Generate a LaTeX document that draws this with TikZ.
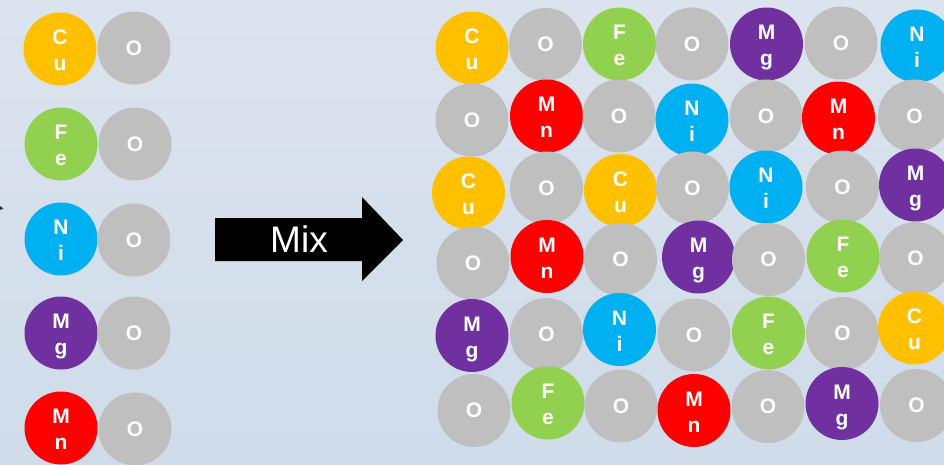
\documentclass[tikz,border=0pt]{standalone}
\usepackage{fontspec}
\setmainfont{Liberation Sans}
\definecolor{bgtop}{RGB}{219,227,238}
\definecolor{bgbot}{RGB}{208,220,234}
\definecolor{cucol}{RGB}{255,192,0}
\definecolor{fecol}{RGB}{146,208,80}
\definecolor{nicol}{RGB}{0,176,240}
\definecolor{mgcol}{RGB}{112,48,160}
\definecolor{mncol}{RGB}{255,0,0}
\definecolor{ocol}{RGB}{191,191,191}
\tikzset{
  ball/.style={circle, draw=none, minimum size=73pt, inner sep=0pt},
  lbl/.style={text=white, font=\bfseries\fontsize{21}{24}\selectfont, inner sep=0pt},
  oball/.style={ball, fill=ocol, text=white, font=\bfseries\fontsize{21}{24}\selectfont},
  mixtext/.style={text=white, font=\fontsize{37}{40}\selectfont, inner sep=0pt}
}
\newcommand\elemball[6]{%
  \node[ball, fill=#4] (#1) at (#2,#3) {};
  \node[lbl, anchor=base] (#1a) at ([yshift=4.5pt]#1.center) {#5};
  \node[lbl, anchor=base] (#1b) at ([yshift=-21.5pt]#1.center) {#6};}
\newcommand\oxball[3]{\node[oball] (#1) at (#2,#3) {O};}
\begin{document}
\begin{tikzpicture}[x=1pt,y=-1pt]
\useasboundingbox (0,0) rectangle (944,464);
\clip (0,0) rectangle (944,464);
\fill[top color=bgtop, bottom color=bgbot] (0,0) rectangle (944,464);
% tiny fragment at the left edge
\fill[black!80] (0,206) -- (3.5,208.5) -- (0,210) -- cycle;
% left column
\elemball{lcu}{60}{49}{cucol}{C}{u}
\oxball{lo1}{134}{48}
\elemball{lfe}{61}{144}{fecol}{F}{e}
\oxball{lo2}{135}{144}
\elemball{lni}{61}{239}{nicol}{N}{i}
\oxball{lo3}{134}{240}
\elemball{lmg}{61}{333}{mgcol}{M}{g}
\oxball{lo4}{134}{333}
\elemball{lmn}{61}{428}{mncol}{M}{n}
\oxball{lo5}{135}{429}
% arrow
\fill[black] (215,218) -- (362,218) -- (362,197) -- (403,240) -- (362,281) -- (362,261) -- (215,261) -- cycle;
\node[mixtext] (mix) at (299,239) {Mix};
% right grid, row 1
\elemball{a1}{472}{48}{cucol}{C}{u}
\oxball{a2}{545.5}{44.5}
\elemball{a3}{619.5}{44}{fecol}{F}{e}
\oxball{a4}{692}{44}
\elemball{a5}{766.5}{44}{mgcol}{M}{g}
\oxball{a6}{841}{43}
\elemball{a7}{917}{46}{nicol}{N}{i}
% row 2
\oxball{b1}{472}{120}
\elemball{b2}{546.5}{116}{mncol}{M}{n}
\oxball{b3}{619}{116}
\elemball{b4}{692}{120}{nicol}{N}{i}
\oxball{b5}{766}{116}
\elemball{b6}{838.5}{118}{mncol}{M}{n}
\oxball{b7}{914.5}{116}
% row 3
\elemball{c1}{468.5}{193}{cucol}{C}{u}
\oxball{c2}{546.5}{188}
\elemball{c3}{620.5}{190.5}{cucol}{C}{u}
\oxball{c4}{692.5}{188}
\elemball{c5}{766}{187}{nicol}{N}{i}
\oxball{c6}{842.5}{187}
\elemball{c7}{915.5}{185}{mgcol}{M}{g}
% row 4
\oxball{d1}{473}{263}
\elemball{d2}{547}{256.5}{mncol}{M}{n}
\oxball{d3}{620.5}{259.5}
\elemball{d4}{698.5}{257}{mgcol}{M}{g}
\oxball{d5}{768.5}{259.5}
\elemball{d6}{843}{256}{fecol}{F}{e}
\oxball{d7}{915.5}{258.5}
% row 5
\elemball{e1}{472}{335.5}{mgcol}{M}{g}
\oxball{e2}{546.5}{334.5}
\elemball{e3}{619.5}{329.5}{nicol}{N}{i}
\oxball{e4}{694}{335}
\elemball{e5}{768.5}{333}{fecol}{F}{e}
\oxball{e6}{842.5}{333.5}
\elemball{e7}{914.5}{328}{cucol}{C}{u}
% row 6
\oxball{f1}{474}{410.5}
\elemball{f2}{548}{403}{fecol}{F}{e}
\oxball{f3}{621}{406}
\elemball{f4}{694}{410.5}{mncol}{M}{n}
\oxball{f5}{768}{406.5}
\elemball{f6}{842}{403.5}{mgcol}{M}{g}
\oxball{f7}{916.5}{405.5}
\end{tikzpicture}
\end{document}
